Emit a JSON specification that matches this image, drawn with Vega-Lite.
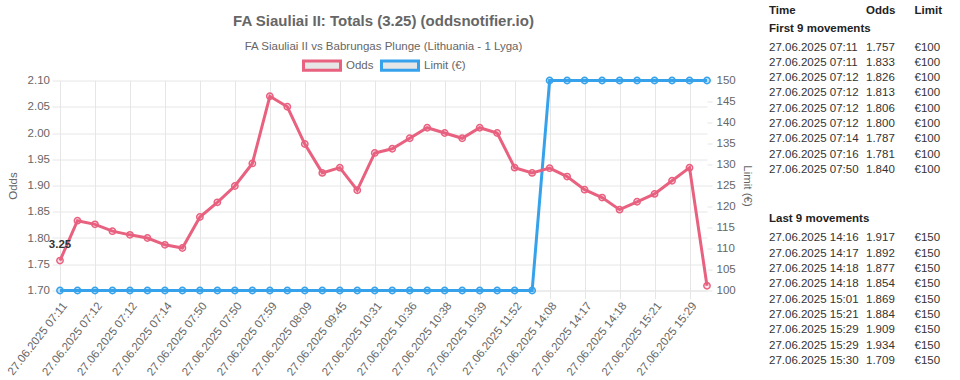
{
  "$schema": "https://vega.github.io/schema/vega-lite/v6.json",
  "padding": {"left": 5, "top": 4.5, "right": 5, "bottom": 0},
  "spacing": 16,
  "resolve": {"scale": {"stroke": "independent"}, "legend": {"stroke": "independent"}},
  "datasets": {
    "movements": [
      {"n": 0, "time": "27.06.2025 07:11", "odds": 1.757, "limit": 100},
      {"n": 1, "time": "27.06.2025 07:11", "odds": 1.833, "limit": 100},
      {"n": 2, "time": "27.06.2025 07:12", "odds": 1.826, "limit": 100},
      {"n": 3, "time": "27.06.2025 07:12", "odds": 1.813, "limit": 100},
      {"n": 4, "time": "27.06.2025 07:12", "odds": 1.806, "limit": 100},
      {"n": 5, "time": "27.06.2025 07:12", "odds": 1.800, "limit": 100},
      {"n": 6, "time": "27.06.2025 07:14", "odds": 1.787, "limit": 100},
      {"n": 7, "time": "27.06.2025 07:16", "odds": 1.781, "limit": 100},
      {"n": 8, "time": "27.06.2025 07:50", "odds": 1.840, "limit": 100},
      {"n": 9, "time": "27.06.2025 07:50", "odds": 1.868, "limit": 100},
      {"n": 10, "time": "27.06.2025 07:50", "odds": 1.899, "limit": 100},
      {"n": 11, "time": "27.06.2025 07:55", "odds": 1.942, "limit": 100},
      {"n": 12, "time": "27.06.2025 07:59", "odds": 2.070, "limit": 100},
      {"n": 13, "time": "27.06.2025 08:04", "odds": 2.050, "limit": 100},
      {"n": 14, "time": "27.06.2025 08:09", "odds": 1.979, "limit": 100},
      {"n": 15, "time": "27.06.2025 09:12", "odds": 1.924, "limit": 100},
      {"n": 16, "time": "27.06.2025 09:45", "odds": 1.934, "limit": 100},
      {"n": 17, "time": "27.06.2025 10:05", "odds": 1.891, "limit": 100},
      {"n": 18, "time": "27.06.2025 10:31", "odds": 1.962, "limit": 100},
      {"n": 19, "time": "27.06.2025 10:33", "odds": 1.970, "limit": 100},
      {"n": 20, "time": "27.06.2025 10:36", "odds": 1.990, "limit": 100},
      {"n": 21, "time": "27.06.2025 10:37", "odds": 2.010, "limit": 100},
      {"n": 22, "time": "27.06.2025 10:38", "odds": 2.000, "limit": 100},
      {"n": 23, "time": "27.06.2025 10:39", "odds": 1.990, "limit": 100},
      {"n": 24, "time": "27.06.2025 10:39", "odds": 2.010, "limit": 100},
      {"n": 25, "time": "27.06.2025 11:15", "odds": 2.000, "limit": 100},
      {"n": 26, "time": "27.06.2025 11:52", "odds": 1.934, "limit": 100},
      {"n": 27, "time": "27.06.2025 13:40", "odds": 1.924, "limit": 100},
      {"n": 28, "time": "27.06.2025 14:08", "odds": 1.933, "limit": 150},
      {"n": 29, "time": "27.06.2025 14:16", "odds": 1.917, "limit": 150},
      {"n": 30, "time": "27.06.2025 14:17", "odds": 1.892, "limit": 150},
      {"n": 31, "time": "27.06.2025 14:18", "odds": 1.877, "limit": 150},
      {"n": 32, "time": "27.06.2025 14:18", "odds": 1.854, "limit": 150},
      {"n": 33, "time": "27.06.2025 15:01", "odds": 1.869, "limit": 150},
      {"n": 34, "time": "27.06.2025 15:21", "odds": 1.884, "limit": 150},
      {"n": 35, "time": "27.06.2025 15:29", "odds": 1.909, "limit": 150},
      {"n": 36, "time": "27.06.2025 15:29", "odds": 1.934, "limit": 150},
      {"n": 37, "time": "27.06.2025 15:30", "odds": 1.709, "limit": 150}
    ],
    "headers": [{"col": "Time"}, {"col": "Odds"}, {"col": "Limit"}],
    "sections": [
      {"part": "first", "label": "First 9 movements"},
      {"part": "last", "label": "Last 9 movements"}
    ]
  },
  "hconcat": [
    {
      "width": 647,
      "height": 210,
      "title": {
        "text": "FA Siauliai II: Totals (3.25) (oddsnotifier.io)",
        "subtitle": "FA Siauliai II vs Babrungas Plunge (Lithuania - 1 Lyga)",
        "anchor": "middle",
        "frame": "group",
        "fontSize": 15,
        "fontWeight": "bold",
        "color": "#666",
        "subtitleFontSize": 11.5,
        "subtitleColor": "#666",
        "subtitlePadding": 12,
        "offset": -7
      },
      "data": {"name": "movements"},
      "encoding": {
        "x": {
          "field": "n",
          "type": "ordinal",
          "scale": {"type": "point", "padding": 0},
          "axis": {
            "title": null,
            "values": [0, 2, 4, 6, 8, 10, 12, 14, 16, 18, 20, 22, 24, 26, 28, 30, 32, 34, 36],
            "labelExpr": "data('movements')[datum.value].time",
            "labelAngle": -52,
            "labelAlign": "right",
            "labelBaseline": "top",
            "labelFontSize": 11.5,
            "labelColor": "#666",
            "labelPadding": 1.5,
            "grid": true,
            "gridColor": "#e6e6e6",
            "tickSize": 8,
            "tickColor": "#e6e6e6",
            "domainColor": "#e6e6e6"
          }
        }
      },
      "layer": [
        {
          "encoding": {
            "y": {
              "field": "limit",
              "type": "quantitative",
              "scale": {"domain": [100, 150], "nice": false, "zero": false},
              "axis": {
                "orient": "right",
                "title": "Limit (€)",
                "titleFontSize": 11.5,
                "titleFontWeight": "normal",
                "titleColor": "#666",
                "titlePadding": 6,
                "values": [100, 105, 110, 115, 120, 125, 130, 135, 140, 145, 150],
                "format": "d",
                "labelFontSize": 11.5,
                "labelColor": "#666",
                "labelPadding": 4,
                "tickSize": 5,
                "tickColor": "#e6e6e6",
                "domain": false,
                "grid": false
              }
            }
          },
          "layer": [
            {
              "mark": {"type": "line", "strokeWidth": 3},
              "encoding": {
                "stroke": {
                  "datum": "Limit (€)",
                  "type": "nominal",
                  "scale": {"domain": ["Odds", "Limit (€)"], "range": ["#e8617f", "#36a2eb"]},
                  "legend": {
                    "orient": "top",
                    "direction": "horizontal",
                    "title": null,
                    "symbolType": "M-1,-0.25H1V0.25H-1Z",
                    "symbolSize": 1369,
                    "symbolStrokeWidth": 3,
                    "symbolFillColor": "#e6e6e6",
                    "labelFontSize": 11.5,
                    "labelColor": "#666",
                    "labelOffset": 4,
                    "columnPadding": 1,
                    "offset": 4
                  }
                }
              }
            },
            {
              "mark": {"type": "point", "filled": true, "size": 40, "opacity": 1, "fill": "rgba(54,162,235,0.3)", "stroke": "#36a2eb", "strokeWidth": 1.5},
              "encoding": {}
            }
          ]
        },
        {
          "encoding": {
            "y": {
              "field": "odds",
              "type": "quantitative",
              "scale": {"domain": [1.7, 2.1], "nice": false, "zero": false},
              "axis": {
                "orient": "left",
                "title": "Odds",
                "titleFontSize": 11.5,
                "titleFontWeight": "normal",
                "titleColor": "#666",
                "titlePadding": 9,
                "values": [1.7, 1.75, 1.8, 1.85, 1.9, 1.95, 2.0, 2.05, 2.1],
                "format": ".2f",
                "labelFontSize": 11.5,
                "labelColor": "#666",
                "labelPadding": 2.5,
                "tickSize": 8,
                "tickColor": "#e6e6e6",
                "domainColor": "#e6e6e6",
                "grid": true,
                "gridColor": "#e6e6e6"
              }
            }
          },
          "layer": [
            {
              "mark": {"type": "line", "strokeWidth": 3},
              "encoding": {"stroke": {"datum": "Odds", "type": "nominal"}}
            },
            {
              "mark": {"type": "point", "filled": true, "size": 40, "opacity": 1, "fill": "rgba(232,97,127,0.15)", "stroke": "#e8617f", "strokeWidth": 1.5},
              "encoding": {}
            },
            {
              "transform": [{"filter": "datum.n == 0"}],
              "mark": {"type": "text", "fontWeight": "bold", "fontSize": 11.5, "dy": -16, "color": "#333"},
              "encoding": {"text": {"value": "3.25"}}
            }
          ]
        }
      ],
      "resolve": {"scale": {"y": "independent"}}
    },
    {
      "spacing": 36.6,
      "vconcat": [
        {
          "width": 145.5,
          "height": 89.4,
          "layer": [
            {
              "data": {"name": "headers"},
              "mark": {"type": "text", "align": "left", "baseline": "middle", "fontSize": 11.5, "fontWeight": "bold", "color": "#222", "dy": -6},
              "encoding": {
                "x": {"field": "col", "type": "ordinal", "scale": {"type": "point", "padding": 0, "domain": ["Time", "gap", "Odds", "Limit"]}, "axis": null},
                "y": {"datum": "H", "type": "ordinal", "scale": {"type": "point", "padding": 0, "domain": ["H", "F", 0, 1, 2, 3, 4, 5, 6, 7, 8], "range": [-63.6, 89.4]}, "axis": null},
                "text": {"field": "col"}
              }
            },
            {
              "data": {"name": "sections"},
              "transform": [{"filter": "datum.part == 'first'"}],
              "mark": {"type": "text", "align": "left", "baseline": "middle", "fontSize": 11.5, "fontWeight": "bold", "color": "#222", "dy": -3.7},
              "encoding": {
                "x": {"datum": "Time", "type": "ordinal"},
                "y": {"datum": "F", "type": "ordinal"},
                "text": {"field": "label"}
              }
            },
            {
              "data": {"name": "movements"},
              "transform": [{"filter": "datum.n < 9"}],
              "mark": {"type": "text", "align": "left", "baseline": "middle", "fontSize": 11.5, "color": "#333"},
              "encoding": {
                "x": {"datum": "Time", "type": "ordinal"},
                "y": {"field": "n", "type": "ordinal"},
                "text": {"field": "time"}
              }
            },
            {
              "data": {"name": "movements"},
              "transform": [{"filter": "datum.n < 9"}],
              "mark": {"type": "text", "align": "left", "baseline": "middle", "fontSize": 11.5, "color": "#333"},
              "encoding": {
                "x": {"datum": "Odds", "type": "ordinal"},
                "y": {"field": "n", "type": "ordinal"},
                "text": {"field": "odds", "format": ".3f"}
              }
            },
            {
              "data": {"name": "movements"},
              "transform": [{"filter": "datum.n < 9"}],
              "mark": {"type": "text", "align": "left", "baseline": "middle", "fontSize": 11.5, "color": "#333"},
              "encoding": {
                "x": {"datum": "Limit", "type": "ordinal"},
                "y": {"field": "n", "type": "ordinal"},
                "text": {"field": "limit", "format": "$d"}
              }
            }
          ]
        },
        {
          "width": 145.5,
          "height": 137.7,
          "layer": [
            {
              "data": {"name": "sections"},
              "transform": [{"filter": "datum.part == 'last'"}],
              "mark": {"type": "text", "align": "left", "baseline": "middle", "fontSize": 11.5, "fontWeight": "bold", "color": "#222", "dy": -4.2},
              "encoding": {
                "x": {"datum": "Time", "type": "ordinal", "scale": {"type": "point", "padding": 0, "domain": ["Time", "gap", "Odds", "Limit"]}, "axis": null},
                "y": {"datum": "L", "type": "ordinal", "scale": {"type": "point", "padding": 0, "domain": ["L", 29, 30, 31, 32, 33, 34, 35, 36, 37]}, "axis": null},
                "text": {"field": "label"}
              }
            },
            {
              "data": {"name": "movements"},
              "transform": [{"filter": "datum.n >= 29"}],
              "mark": {"type": "text", "align": "left", "baseline": "middle", "fontSize": 11.5, "color": "#333"},
              "encoding": {
                "x": {"datum": "Time", "type": "ordinal"},
                "y": {"field": "n", "type": "ordinal"},
                "text": {"field": "time"}
              }
            },
            {
              "data": {"name": "movements"},
              "transform": [{"filter": "datum.n >= 29"}],
              "mark": {"type": "text", "align": "left", "baseline": "middle", "fontSize": 11.5, "color": "#333"},
              "encoding": {
                "x": {"datum": "Odds", "type": "ordinal"},
                "y": {"field": "n", "type": "ordinal"},
                "text": {"field": "odds", "format": ".3f"}
              }
            },
            {
              "data": {"name": "movements"},
              "transform": [{"filter": "datum.n >= 29"}],
              "mark": {"type": "text", "align": "left", "baseline": "middle", "fontSize": 11.5, "color": "#333"},
              "encoding": {
                "x": {"datum": "Limit", "type": "ordinal"},
                "y": {"field": "n", "type": "ordinal"},
                "text": {"field": "limit", "format": "$d"}
              }
            }
          ]
        }
      ]
    }
  ],
  "config": {
    "font": "Liberation Sans",
    "view": {"stroke": null},
    "legend": {"layout": {"top": {"anchor": "middle"}}},
    "locale": {"number": {"decimal": ".", "thousands": ",", "grouping": [3], "currency": ["€", ""]}}
  }
}
